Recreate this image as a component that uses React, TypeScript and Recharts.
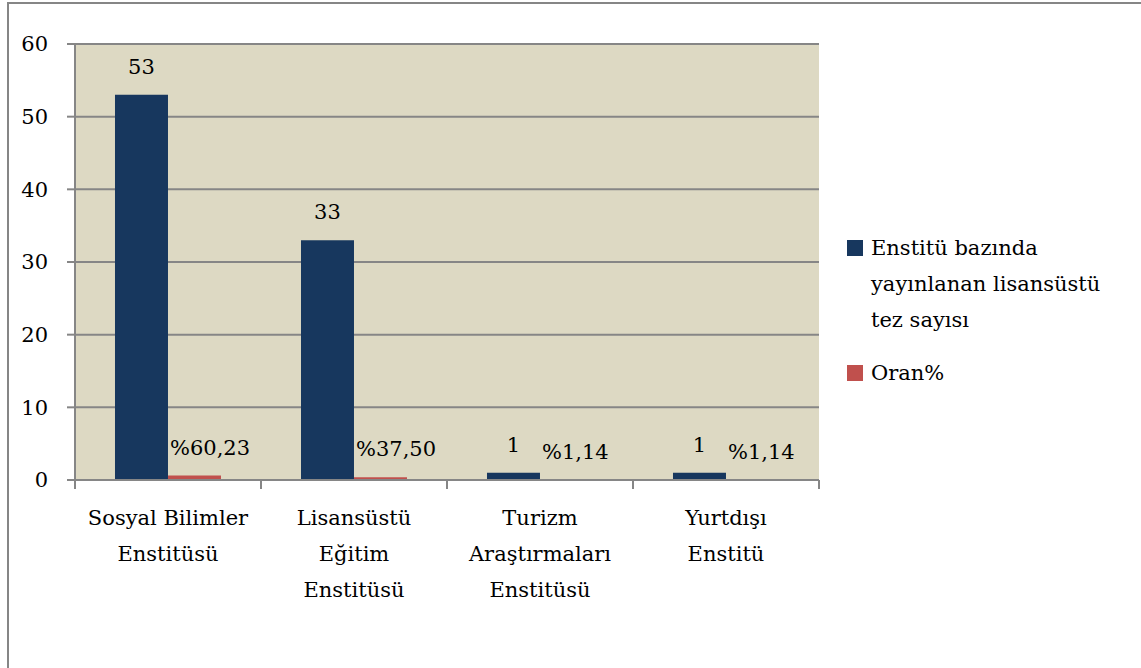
import React from 'react';
import {
  BarChart,
  Bar,
  XAxis,
  YAxis,
  CartesianGrid,
  LabelList,
} from 'recharts';

const categories = [
  'Sosyal Bilimler\nEnstitüsü',
  'Lisansüstü\nEğitim\nEnstitüsü',
  'Turizm\nAraştırmaları\nEnstitüsü',
  'Yurtdışı\nEnstitü',
];
const tezSayisi = [53, 33, 1, 1];
const oran = [0.6023, 0.375, 0.0114, 0.0114];
const yTicks = [0, 10, 20, 30, 40, 50, 60];

const seriesNames = ['Enstitü bazında\nyayınlanan lisansüstü\ntez sayısı', 'Oran%'];
const colors = ['#17375E', '#C0504D'];

const FONT = '"DejaVu Serif", serif';
const FS = 21;
const GRID = '#868686';

const W = 1141;
const H = 668;
const M = { top: 44, right: 322, left: 15, bottom: 68 };
const Y_AXIS_W = 60;
const HALF_BAND = (W - M.left - M.right - Y_AXIS_W) / categories.length / 2;

const data = categories.map((c, i) => ({ name: c, tez: tezSayisi[i], oran: oran[i] }));

const fmtOran = (v: number) => '%' + (v * 100).toFixed(2).replace('.', ',');

function CatTick(props: any) {
  const { x, y, payload, index } = props;
  const lines = String(payload.value).split('\n');
  return (
    <g>
      <line x1={x - HALF_BAND} x2={x - HALF_BAND} y1={y} y2={y + 9} stroke={GRID} strokeWidth={2} />
      {index === categories.length - 1 && (
        <line x1={x + HALF_BAND} x2={x + HALF_BAND} y1={y} y2={y + 9} stroke={GRID} strokeWidth={2} />
      )}
      <text x={x} y={y + 45} textAnchor="middle" fontFamily={FONT} fontSize={FS} fill="#000">
        {lines.map((l, i) => (
          <tspan key={i} x={x} dy={i === 0 ? 0 : 36}>
            {l}
          </tspan>
        ))}
      </text>
    </g>
  );
}

function TezLabel(props: any) {
  const { x, y, width, value } = props;
  return (
    <text x={x + width / 2} y={y - 21} textAnchor="middle" fontFamily={FONT} fontSize={FS} fill="#000">
      {value}
    </text>
  );
}

function OranLabel(props: any) {
  const { x, y, value } = props;
  return (
    <text x={x + 2} y={y - 21} textAnchor="start" fontFamily={FONT} fontSize={FS} fill="#000">
      {fmtOran(value)}
    </text>
  );
}

function LegendBox() {
  return (
    <div style={{ position: 'absolute', left: 847, top: 230, fontFamily: FONT, fontSize: FS, color: '#000' }}>
      {seriesNames.map((s, i) => (
        <div key={i} style={{ display: 'flex', alignItems: 'flex-start', marginBottom: 17 }}>
          <div style={{ width: 16, height: 16, background: colors[i], marginTop: 10, marginRight: 8, flex: 'none' }} />
          <div style={{ lineHeight: '36px', whiteSpace: 'pre' }}>{s}</div>
        </div>
      ))}
    </div>
  );
}

export default function App() {
  return (
    <div style={{ position: 'absolute', left: 0, top: 0, width: W, height: H, overflow: 'hidden', background: '#fff' }}>
      <div
        style={{
          position: 'absolute',
          left: 7,
          top: 2,
          width: 1200,
          height: 664,
          borderLeft: `2px solid ${GRID}`,
          borderTop: `2px solid ${GRID}`,
          borderBottom: '1px solid #d9d9d9',
        }}
      />
      <div style={{ position: 'absolute', left: 0, top: 0 }}>
        <BarChart
          width={W}
          height={H}
          data={data}
          margin={M}
          barCategoryGap="21.5%"
          barGap={0}
        >
          <CartesianGrid
            vertical={false}
            stroke={GRID}
            strokeWidth={2}
            fill="#DDD9C3"
            fillOpacity={1}
          />
          <XAxis
            dataKey="name"
            interval={0}
            tickLine={false}
            tickSize={0}
            tickMargin={0}
            height={120}
            axisLine={{ stroke: GRID, strokeWidth: 2 }}
            tick={<CatTick />}
          />
          <YAxis
            width={Y_AXIS_W}
            domain={[0, 60]}
            ticks={yTicks}
            interval={0}
            tickSize={8}
            tickMargin={19}
            axisLine={{ stroke: GRID, strokeWidth: 2 }}
            tickLine={{ stroke: GRID, strokeWidth: 2 }}
            tick={{ fontFamily: FONT, fontSize: FS, fill: '#000' }}
          />
          <Bar dataKey="tez" fill={colors[0]} isAnimationActive={false}>
            <LabelList dataKey="tez" content={<TezLabel />} />
          </Bar>
          <Bar dataKey="oran" fill={colors[1]} isAnimationActive={false}>
            <LabelList dataKey="oran" content={<OranLabel />} />
          </Bar>
        </BarChart>
      </div>
      <LegendBox />
    </div>
  );
}
